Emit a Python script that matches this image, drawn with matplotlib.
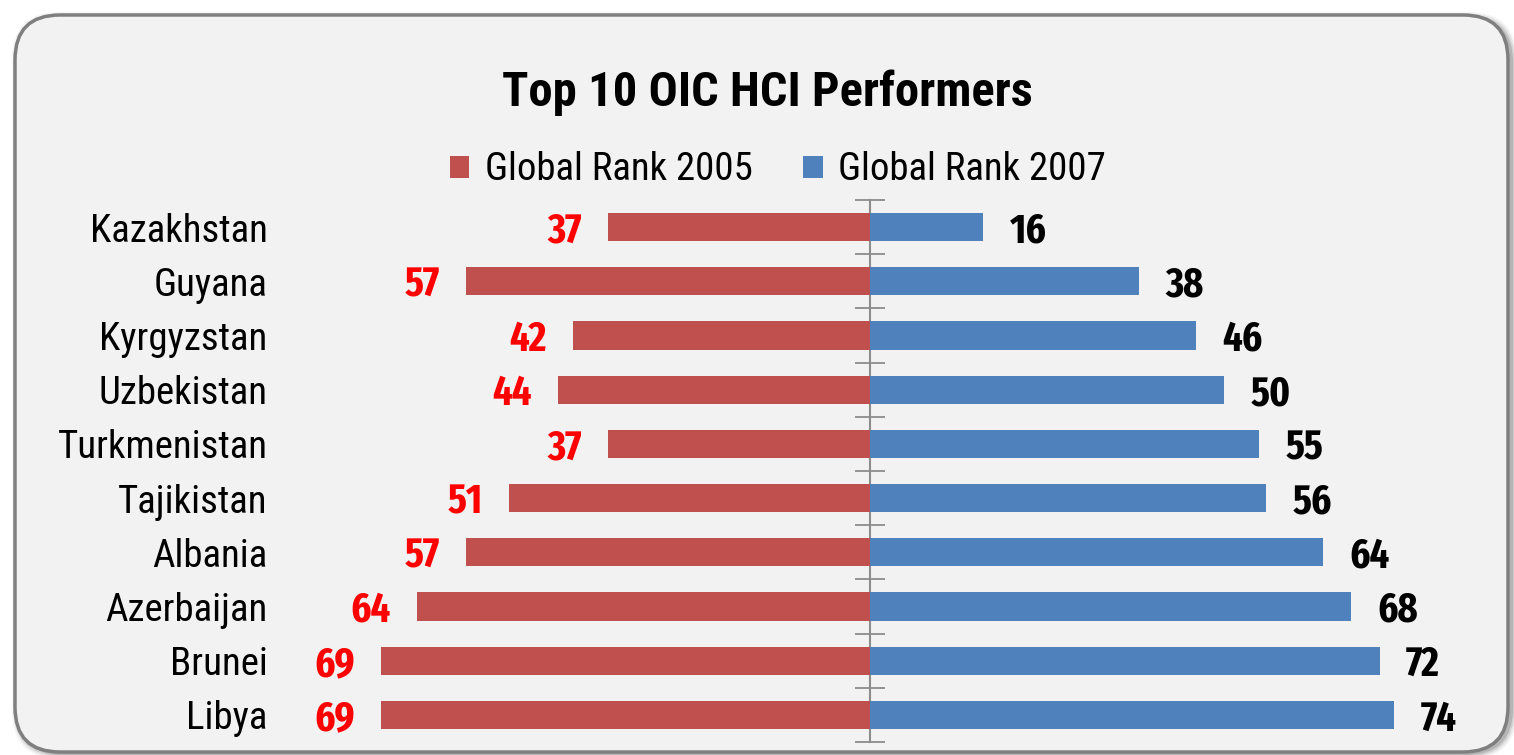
import numpy as np
import matplotlib
matplotlib.use('Agg')
import matplotlib.pyplot as plt
from matplotlib.patches import FancyBboxPatch, Patch
from matplotlib.ticker import FixedLocator
from matplotlib.transforms import ScaledTranslation

label_font = ['Roboto Condensed', 'DejaVu Sans']
num_font = ['Fira Sans Extra Condensed', 'Roboto Condensed', 'DejaVu Sans']
plt.rcParams['font.family'] = label_font

# Data
countries = ['Kazakhstan', 'Guyana', 'Kyrgyzstan', 'Uzbekistan', 'Turkmenistan',
             'Tajikistan', 'Albania', 'Azerbaijan', 'Brunei', 'Libya']
rank_2005 = [37, 57, 42, 44, 37, 51, 57, 64, 69, 69]
rank_2007 = [16, 38, 46, 50, 55, 56, 64, 68, 72, 74]

red = '#C0504D'
blue = '#4F81BD'
W, H = 1514, 755

fig = plt.figure(figsize=(W / 100, H / 100), dpi=100)
fig.patch.set_facecolor('white')

# rounded panel with a soft shadow (pixel coords, origin bottom-left)
for i, a in enumerate([0.04, 0.06, 0.09, 0.13]):
    g = 10 - 2.5 * i
    sh = FancyBboxPatch((15 - g / 2 + 2, 3 - g / 2 - 2), 1495 + g, 737 + g,
                        boxstyle='round,pad=0,rounding_size=48',
                        transform=None, facecolor='black', edgecolor='none',
                        alpha=a, zorder=0)
    fig.patches.append(sh)
panel = FancyBboxPatch((15, 3), 1493, 737,
                       boxstyle='round,pad=0,rounding_size=45',
                       transform=None, facecolor='#f2f2f2', edgecolor='#7f7f7f',
                       linewidth=2.5, zorder=1)
fig.patches.append(panel)

# axes placed so that zero sits at x=870px
left_px, right_px, top_px, bot_px = 280, 1480, 200, 742
ax = fig.add_axes([left_px / W, 1 - bot_px / H, (right_px - left_px) / W, (bot_px - top_px) / H])
ax.set_zorder(5)
ax.set_facecolor('none')
scale = 7.08
ax.set_xlim(-(870 - left_px) / scale, (right_px - 870) / scale)

y = np.arange(len(countries))
ax.barh(y, [-v for v in rank_2005], height=0.52, color=red, zorder=3)
ax.barh(y, rank_2007, height=0.52, color=blue, zorder=3)
ax.set_ylim(len(countries) - 0.5, -0.5)

for yi, v in zip(y, rank_2005):
    ax.annotate(str(v), (-v, yi), xytext=(-19, -3), textcoords='offset points',
                ha='right', va='center', color='#ff0000', fontsize=30,
                fontweight='bold', family=num_font)
for yi, v in zip(y, rank_2007):
    ax.annotate(str(v), (v, yi), xytext=(19, -3), textcoords='offset points',
                ha='left', va='center', color='black', fontsize=30,
                fontweight='bold', family=num_font)

for s in ['top', 'bottom', 'left']:
    ax.spines[s].set_visible(False)
ax.spines['right'].set_position(('data', 0))
ax.spines['right'].set_color('#8c8c8c')
ax.spines['right'].set_linewidth(1.5)
ax.set_xticks([])
ax.set_yticks(y)
ax.set_yticklabels(countries, fontsize=28)
shift = ScaledTranslation(0, -0.09, fig.dpi_scale_trans)
for lbl in ax.get_yticklabels():
    lbl.set_transform(lbl.get_transform() + shift)
ax.yaxis.set_minor_locator(FixedLocator(np.arange(-0.5, len(countries), 1.0)))
ax.tick_params(axis='y', which='major', left=True, right=False, length=0, pad=9,
               labelleft=True, labelright=False)
ax.tick_params(axis='y', which='minor', left=False, right=True, length=21,
               width=1.3, direction='inout', color='#8c8c8c')

fig.text(767 / W, 1 - 106 / H, 'Top 10 OIC HCI Performers', ha='center', va='baseline',
         fontsize=35, fontweight='bold')

handles = [Patch(facecolor=red, label='Global Rank 2005'),
           Patch(facecolor=blue, label='Global Rank 2007')]
fig.legend(handles=handles, loc='center', bbox_to_anchor=(778 / W, 1 - 170 / H),
           ncol=2, frameon=False, fontsize=28, handlelength=0.5, handleheight=0.5,
           handletextpad=0.4, columnspacing=1.3, borderpad=0)

fig.savefig('out.png', dpi=100, facecolor=fig.get_facecolor())
